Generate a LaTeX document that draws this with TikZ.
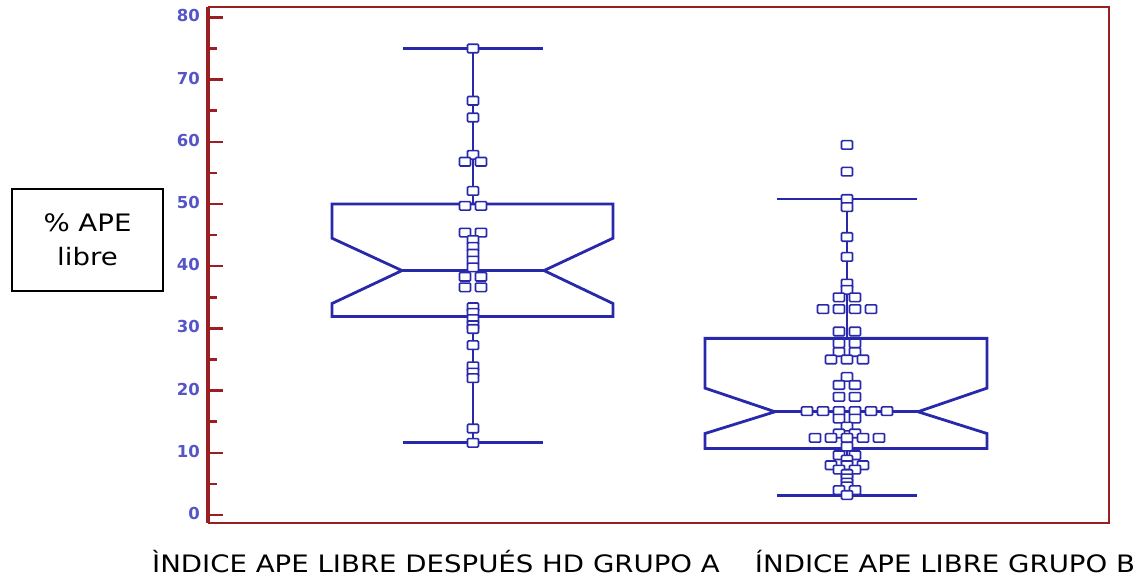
\documentclass[tikz,border=0pt]{standalone}
\usepackage{fontspec}
\setmainfont{DejaVu Sans}
\newfontfamily\labfont[FakeStretch=1.15]{DejaVu Sans}
\usepackage{tikz}
\definecolor{axisred}{RGB}{155,30,35}
\definecolor{plotblue}{RGB}{40,40,170}
\definecolor{tickblue}{RGB}{85,85,200}
\tikzstyle{axisline} = [draw=axisred, line width=2.5pt]
\tikzstyle{boxline} = [draw=plotblue, line width=2.8pt, line join=miter]
\tikzstyle{datapt} = [draw=plotblue, fill=white, line width=1.6pt,
    rectangle, rounded corners=1pt, minimum width=11pt, minimum height=8.5pt, inner sep=0pt]
\tikzstyle{ticklab} = [text=tickblue, font=\fontsize{16.5}{17}\selectfont\bfseries,
    anchor=east, inner sep=0pt, yshift=1.5pt]
\tikzstyle{ylabbox} = [draw=black, line width=1.6pt, minimum width=151pt, minimum height=102pt,
    align=center, font=\labfont\fontsize{24}{34}\selectfont]
\tikzstyle{catlab} = [anchor=base, inner sep=0pt, font=\labfont\fontsize{24}{28}\selectfont]

\begin{document}
\begin{tikzpicture}[x=1pt, y=-1pt]
    \useasboundingbox (0,0) rectangle (1143,578);
    % frame
    \draw[axisline] (208,7) -- (1109,7) -- (1109,523) -- (208,523);
    \draw[axisline, line width=3.5pt] (208,7) -- (208,523);
    \node[ylabbox] (ylab) at (87.5,240) {\% APE\\libre};
    \node[catlab] (labA) at (436,572) {ÌNDICE APE LIBRE DESPUÉS HD GRUPO A};
    \node[catlab] (labB) at (945,572) {ÍNDICE APE LIBRE GRUPO B};
    \begin{scope}[shift={(0,515)}, y=6.22pt]
        \foreach \v in {0,10,...,80} {
            \draw[axisline] (208,\v) -- (223,\v);
            \node[ticklab] at (200,\v) {\v};
        }
        \foreach \v in {5,15,...,75}
            \draw[axisline] (208,\v) -- (217,\v);
        % grupo A
        \draw[boxline] (332,50) -- (613,50) -- (613,44.5) -- (544,39.3) -- (613,34.0) -- (613,31.9)
            -- (332,31.9) -- (332,34.0) -- (402,39.3) -- (332,44.5) -- cycle;
        \draw[boxline] (402,39.3) -- (544,39.3);
        \draw[boxline] (473,50) -- (473,75) (403,75) -- (543,75);
        \draw[boxline] (473,31.9) -- (473,11.6) (403,11.6) -- (543,11.6);
        \foreach \dx/\v [count=\i] in {0/75, 0/66.6, 0/63.9, 0/57.9, -8/56.8, 8/56.8, 0/52.1,
            -8/49.7, 8/49.7, -8/45.4, 8/45.4, 0/44.2, 0/43.1, 0/42.0, 0/40.9, 0/39.8,
            -8/38.3, 8/38.3, -8/36.6, 8/36.6, 0/33.4, 0/32.5, 0/31.5, 0/30.5, 0/29.9,
            0/27.3, 0/23.9, 0/22.9, 0/22.0, 0/13.9, 0/11.6}
            \node[datapt] (a\i) at ({473+(\dx)},\v) {};
        % grupo B
        \draw[boxline] (705,28.4) -- (987,28.4) -- (987,20.4) -- (918,16.6) -- (987,13.1) -- (987,10.7)
            -- (705,10.7) -- (705,13.1) -- (775,16.6) -- (705,20.4) -- cycle;
        \draw[boxline] (775,16.6) -- (918,16.6);
        \draw[boxline] (847,28.4) -- (847,50.8) (777,50.8) -- (917,50.8);
        \draw[boxline] (847,10.7) -- (847,3.2) (777,3.2) -- (917,3.2);
        \foreach \dx/\v [count=\i] in {0/59.5, 0/55.2, 0/50.8, 0/49.5, 0/44.7, 0/41.5, 0/37.2, 0/36.2,
            -8/35.0, 8/35.0, -24/33.1, -8/33.1, 8/33.1, 24/33.1,
            -8/29.5, 8/29.5, -8/27.6, 8/27.6, -8/26.2, 8/26.2, -16/25.0, 0/25.0, 16/25.0,
            0/22.2, -8/20.9, 8/20.9, -8/19.0, 8/19.0,
            -40/16.7, -24/16.7, -8/16.7, 8/16.7, 24/16.7, 40/16.7,
            -8/15.5, 8/15.5, 0/14.2, -8/13.1, 8/13.1,
            -32/12.4, -16/12.4, 0/12.4, 16/12.4, 32/12.4,
            0/11.0, -8/9.6, 8/9.6, 0/8.9, -16/8.0, 0/8.0, 16/8.0, -8/7.3, 8/7.3,
            0/6.6, 0/5.9, 0/5.2, 0/4.6, -8/4.0, 8/4.0, 0/3.2}
            \node[datapt] (b\i) at ({847+(\dx)},\v) {};
    \end{scope}
\end{tikzpicture}
\end{document}
